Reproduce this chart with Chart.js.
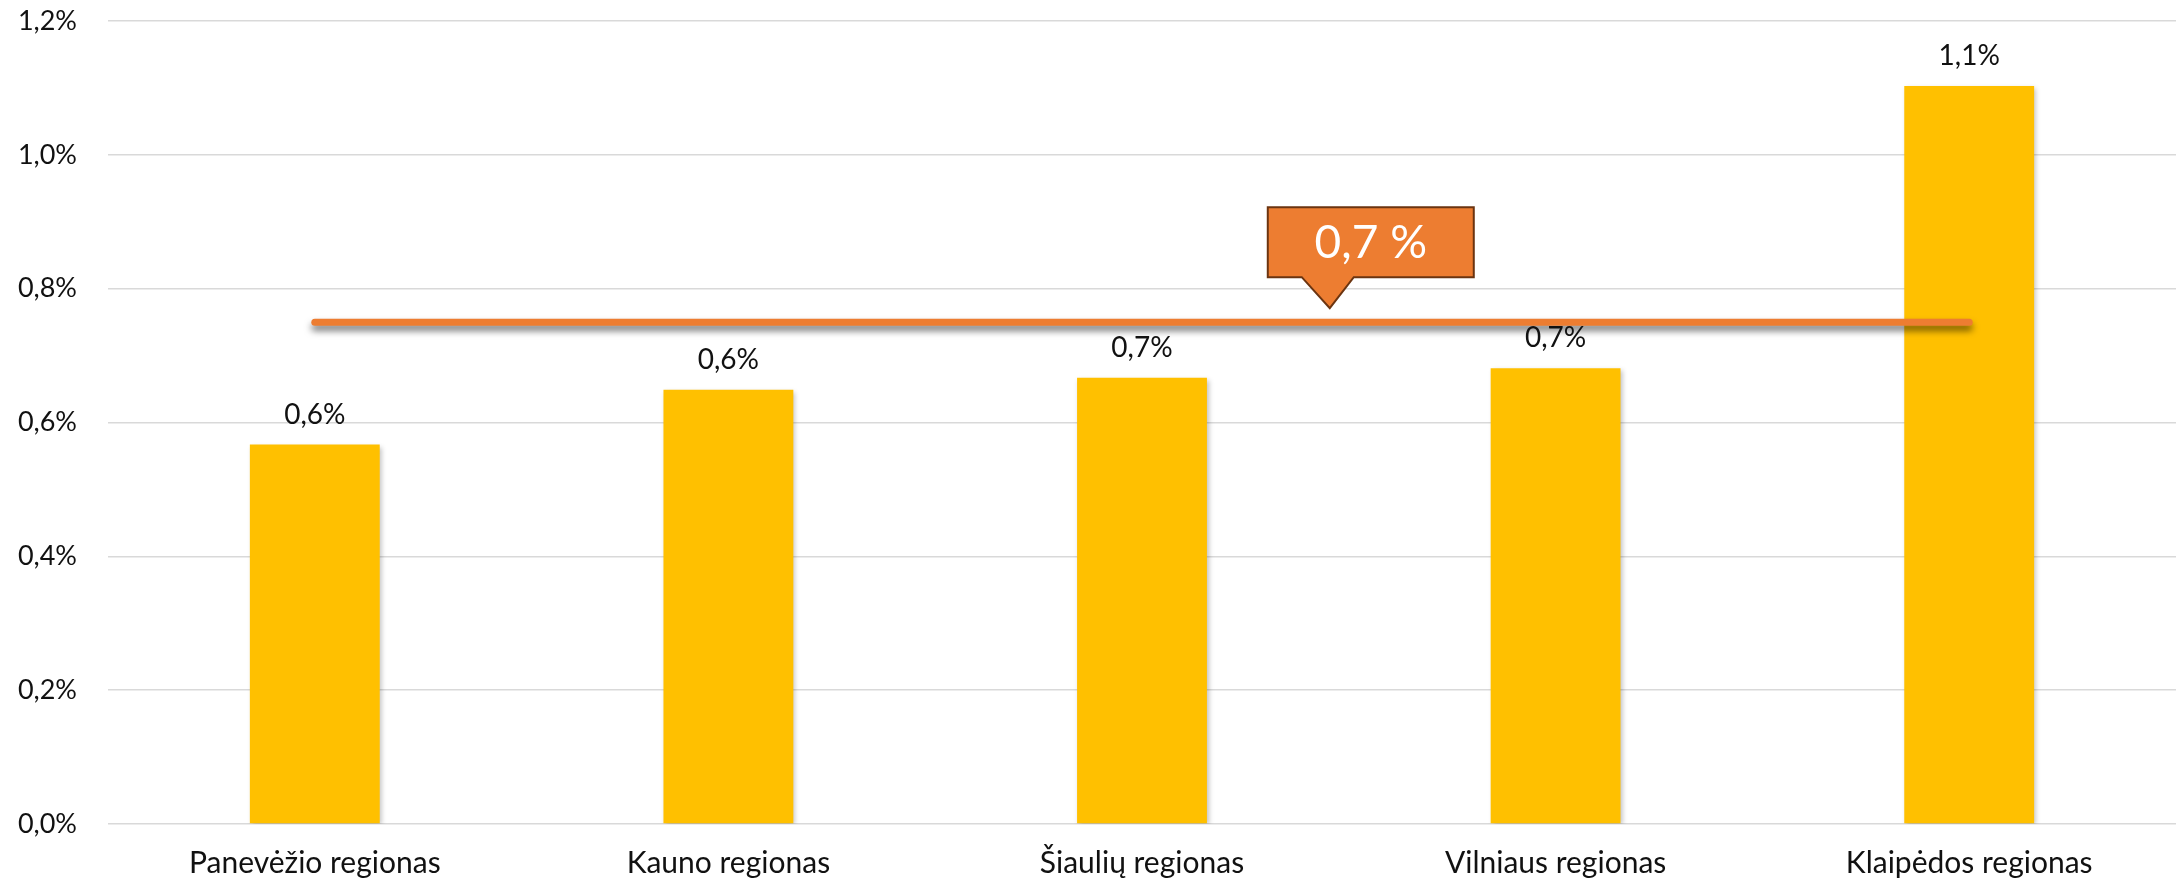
<!DOCTYPE html>
<html>
<head>
<meta charset="utf-8">
<script src="https://cdn.jsdelivr.net/npm/chart.js@4.4.1/dist/chart.umd.min.js"></script>
<style>
  html, body { margin: 0; padding: 0; background: #fff; }
  #wrap { width: 2178px; height: 884px; }
</style>
</head>
<body>
<div id="wrap"><canvas id="barChart"></canvas></div>
<script>
// duomenys
const regions = ['Panevėžio regionas', 'Kauno regionas', 'Šiaulių regionas', 'Vilniaus regionas', 'Klaipėdos regionas'];
const shares = [0.567, 0.649, 0.667, 0.681, 1.103];
const averageLine = [0.75, 0.75, 0.75, 0.75, 0.75];
const averageLabel = '0,7 %';
const yTickLabels = ['0,0%', '0,2%', '0,4%', '0,6%', '0,8%', '1,0%', '1,2%'];

const FONT = 'Lato, "Open Sans", sans-serif';

const fmt = v => v.toFixed(1).replace('.', ',') + '%';

// šešėliai stulpeliams ir vidurkio linijai
const shadowPlugin = {
    id: 'shadows',
    beforeDatasetDraw(chart, args) {
        const ctx = chart.ctx;
        ctx.save();
        if (args.meta.type === 'line') {
            ctx.shadowColor = 'rgba(0,0,0,0.55)';
            ctx.shadowBlur = 7;
            ctx.shadowOffsetY = 5;
        } else {
            ctx.shadowColor = 'rgba(0,0,0,0.25)';
            ctx.shadowBlur = 5;
            ctx.shadowOffsetX = 2;
            ctx.shadowOffsetY = 2;
        }
    },
    afterDatasetDraw(chart) {
        chart.ctx.restore();
    }
};

// reikšmės virš stulpelių + vidurkio žymė
const labelPlugin = {
    id: 'labels',
    afterDatasetsDraw(chart) {
        const ctx = chart.ctx;
        const meta = chart.getDatasetMeta(1);
        ctx.save();
        ctx.font = '28px ' + FONT;
        ctx.fillStyle = '#111';
        ctx.textAlign = 'center';
        ctx.textBaseline = 'middle';
        meta.data.forEach((bar, i) => {
            ctx.fillText(fmt(shares[i]), bar.x, bar.y - 30);
        });

        // callout
        const x = chart.scales.x.getPixelForValue(2.454);
        const tipY = chart.scales.y.getPixelForValue(averageLine[0]) - 14;
        const boxL = x - 62, boxR = x + 144;
        const boxB = tipY - 31, boxT = boxB - 70;
        ctx.beginPath();
        ctx.moveTo(boxL, boxT);
        ctx.lineTo(boxR, boxT);
        ctx.lineTo(boxR, boxB);
        ctx.lineTo(x + 24, boxB);
        ctx.lineTo(x, tipY);
        ctx.lineTo(x - 28, boxB);
        ctx.lineTo(boxL, boxB);
        ctx.closePath();
        ctx.fillStyle = '#ED7D31';
        ctx.fill();
        ctx.lineWidth = 2;
        ctx.strokeStyle = '#6B3410';
        ctx.stroke();
        ctx.fillStyle = '#fff';
        ctx.font = '46px ' + FONT;
        ctx.fillText(averageLabel, (boxL + boxR) / 2, (boxT + boxB) / 2 + 1);
        ctx.restore();
    }
};

const ctx = document.getElementById('barChart').getContext('2d');
new Chart(ctx, {
    type: 'bar',
    data: {
        labels: regions,
        datasets: [{
            type: 'line',
            data: averageLine,
            borderColor: '#ED7D31',
            borderWidth: 7,
            borderCapStyle: 'round',
            pointRadius: 0,
            order: 0
        }, {
            data: shares,
            backgroundColor: '#FFC000',
            barPercentage: 1,
            categoryPercentage: 0.314,
            order: 1
        }]
    },
    options: {
        responsive: true,
        maintainAspectRatio: false,
        animation: false,
        layout: { padding: { top: 21, right: 2, left: 0, bottom: 0 } },
        plugins: {
            legend: { display: false },
            tooltip: { enabled: false }
        },
        scales: {
            x: {
                grid: { display: false },
                border: { display: false },
                ticks: {
                    color: '#111',
                    font: { family: FONT, size: 30 },
                    padding: 13,
                    maxRotation: 0
                },
                afterFit(scale) { scale.height = 60; scale.paddingLeft = 0; scale.paddingRight = 0; }
            },
            y: {
                min: 0,
                max: 1.2,
                border: { display: false },
                grid: { color: '#d9d9d9', lineWidth: 1.5, drawTicks: false },
                ticks: {
                    stepSize: 0.2,
                    color: '#111',
                    font: { family: FONT, size: 27 },
                    padding: 31,
                    callback: (v, i) => yTickLabels[i]
                },
                afterFit(scale) { scale.width = 108; scale.paddingTop = 0; scale.paddingBottom = 0; }
            }
        }
    },
    plugins: [shadowPlugin, labelPlugin]
});
</script>
</body>
</html>
